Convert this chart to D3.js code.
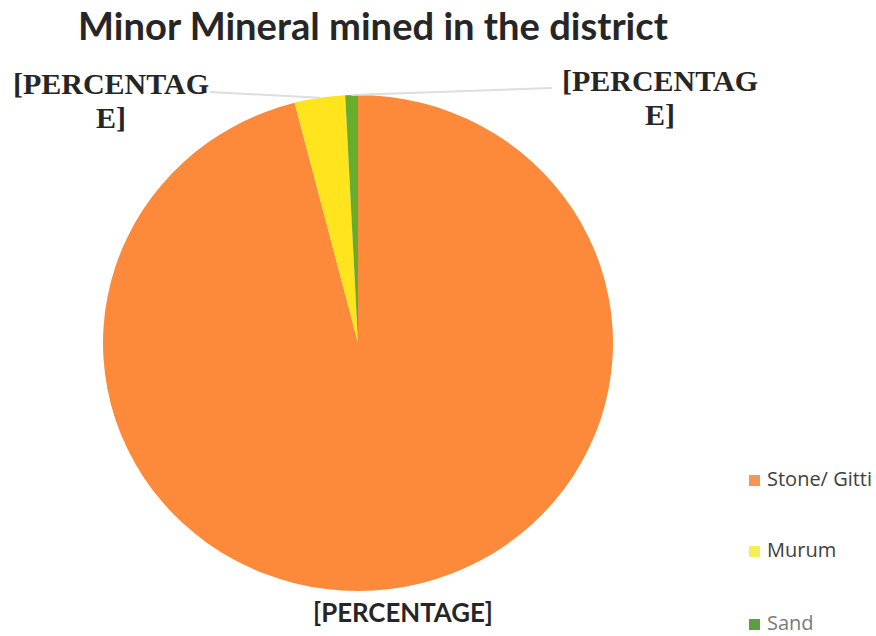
<!DOCTYPE html>
<html>
<head>
<meta charset="utf-8">
<script src="https://cdn.jsdelivr.net/npm/d3@7"></script>
<style>
  html, body { margin: 0; padding: 0; background: #fff; }
  svg { display: block; }
</style>
</head>
<body>
<svg id="chart" width="876" height="636"></svg>
<script>
const title = "Minor Mineral mined in the district";
const categories = ["Stone/ Gitti", "Murum", "Sand"];
const values = [96.0, 3.2, 0.8];
const colors = ["#FD8A3A", "#FFE41E", "#68AC2C"];
const legendColors = ["#F8935A", "#F5EE5A", "#5E9E45"];
const labelTexts = ["[PERCENTAGE]", "[PERCENTAG|E]", "[PERCENTAG|E]"];

const svg = d3.select("#chart");
const W = 876, H = 636;

svg.append("rect").attr("width", W).attr("height", H).attr("fill", "#fff");

function fitWidth(sel, base, target) {
  const w = sel.node().getComputedTextLength();
  sel.attr("font-size", base * target / w);
}

// Title
const t = svg.append("text")
  .attr("x", 373).attr("y", 40)
  .attr("text-anchor", "middle")
  .attr("font-family", "Lato, 'Open Sans', sans-serif")
  .attr("font-weight", "bold")
  .attr("font-size", 31)
  .attr("fill", "#262626")
  .text(title);
fitWidth(t, 31, 590);

// Pie
const cx = 358, cy = 343, rx = 255, ry = 248;
const pie = d3.pie().sort(null).value(d => d)(values);
const arc = d3.arc().innerRadius(0).outerRadius(rx);

const g = svg.append("g").attr("transform", `translate(${cx},${cy}) scale(1,${ry / rx})`);
g.selectAll("path").data(pie).join("path")
  .attr("d", arc)
  .attr("fill", (d, i) => colors[i]);

// Leader lines for small slices
function outerPoint(d) {
  const a = (d.startAngle + d.endAngle) / 2;
  return [cx + rx * Math.sin(a), cy - ry * Math.cos(a)];
}
const leaderStart = [null, [210, 92], [552, 88]];
pie.forEach((d, i) => {
  if (!leaderStart[i]) return;
  const p = outerPoint(d);
  svg.append("line")
    .attr("x1", leaderStart[i][0]).attr("y1", leaderStart[i][1])
    .attr("x2", p[0]).attr("y2", p[1])
    .attr("stroke", "#dedede").attr("stroke-width", 2);
});

// Data labels
const serifLabelPos = [null, [111, 94], [660, 91]];
[1, 2].forEach(i => {
  const lines = labelTexts[i].split("|");
  const tx = svg.append("text")
    .attr("text-anchor", "middle")
    .attr("font-family", "'Liberation Serif', 'DejaVu Serif', serif")
    .attr("font-weight", "bold")
    .attr("font-size", 30)
    .attr("fill", "#262626");
  lines.forEach((ln, k) => {
    tx.append("tspan")
      .attr("x", serifLabelPos[i][0])
      .attr("y", serifLabelPos[i][1] + k * 34)
      .text(ln);
  });
});

const bl = svg.append("text")
  .attr("x", 403).attr("y", 622)
  .attr("text-anchor", "middle")
  .attr("font-family", "Lato, 'Open Sans', sans-serif")
  .attr("font-weight", "bold")
  .attr("font-size", 22)
  .attr("fill", "#262626")
  .text(labelTexts[0]);
fitWidth(bl, 22, 180);

// Legend
const legendY = [486, 557, 630];
const lg = svg.append("g");
categories.forEach((c, i) => {
  lg.append("rect")
    .attr("x", 749).attr("y", legendY[i] - 11)
    .attr("width", 11).attr("height", 11)
    .attr("fill", legendColors[i]);
  lg.append("text")
    .attr("x", 767).attr("y", legendY[i])
    .attr("font-family", "'Open Sans', sans-serif")
    .attr("font-size", 20)
    .attr("fill", i === 2 ? "#7a7a7a" : "#404040")
    .text(c);
});
</script>
</body>
</html>
